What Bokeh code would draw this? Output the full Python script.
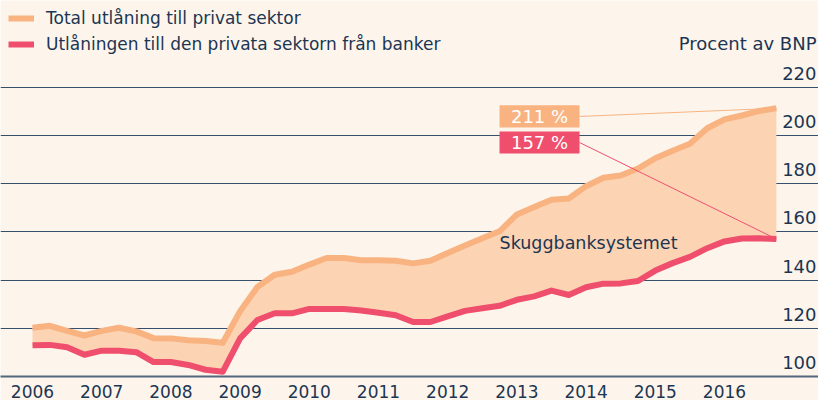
from bokeh.plotting import figure
from bokeh.models import (ColumnDataSource, FixedTicker, LinearAxis, Legend, LegendItem, Label)
from bokeh.core.properties import value
from bokeh.embed import file_html
from bokeh.resources import INLINE

# ---- data (percent of GDP, quarterly 2006Q1-2016Q4) ----
years = [2006, 2007, 2008, 2009, 2010, 2011, 2012, 2013, 2014, 2015, 2016]
total = [120.2, 121.0, 118.9, 117.0, 118.9, 120.2, 118.7, 115.9, 115.8, 115.0, 114.7, 114.0,
         127.1, 137.1, 142.2, 143.4, 146.4, 149.1, 149.1, 148.2, 148.2, 148.0, 146.9, 148.0,
         151.2, 154.3, 157.3, 160.2, 167.2, 170.3, 173.3, 173.8, 178.9, 182.4, 183.3, 186.2,
         190.5, 193.6, 196.5, 202.9, 206.6, 208.2, 210.1, 211.2]
banks = [113.0, 113.1, 112.1, 109.0, 110.7, 110.7, 110.1, 106.0, 106.0, 104.8, 102.8, 102.0,
         115.8, 123.4, 126.2, 126.2, 128.0, 128.0, 128.0, 127.4, 126.4, 125.4, 122.6, 122.6,
         124.9, 127.2, 128.3, 129.3, 131.8, 133.2, 135.6, 133.8, 137.0, 138.5, 138.6, 139.6,
         143.9, 147.0, 149.6, 153.2, 156.0, 157.2, 157.3, 157.0]
y_ticks = [100, 120, 140, 160, 180, 200, 220]
y_labels = ["100", "120", "140", "160", "180", "200", "220"]
series_names = ["Total utlåning till privat sektor",
                "Utlåningen till den privata sektorn från banker"]
end_labels = ["211 %", "157 %"]
shadow_label = "Skuggbanksystemet"
unit_label = "Procent av BNP"

x = [years[0] + i / 4 for i in range(len(total))]

# ---- style ----
BG = "#fdf5ec"
ORANGE = "#f8b381"
FILL = "#fcd4b4"
RED = "#ef4f6c"
NAVY = "#1c3553"
GRID = "#34506b"
FONT = "DejaVu Sans"

W, H, BOTTOM = 818, 400, 22
FRAME_H = H - BOTTOM
X0 = 2005.5376
X1 = X0 + W / 69.2
SCALE = (FRAME_H - 87) / 120.0
Y0 = 100
Y1 = Y0 + FRAME_H / SCALE


def yv(py):
    """screen y (px from top) -> data value"""
    return Y1 - py / SCALE


p = figure(width=W, height=H, x_range=(X0, X1), y_range=(Y0, Y1),
           output_backend="svg", toolbar_location=None,
           x_axis_location=None, y_axis_location=None,
           min_border_left=0, min_border_right=0, min_border_top=0, min_border_bottom=BOTTOM,
           background_fill_color=BG, border_fill_color=BG, outline_line_color=None)

p.xgrid.visible = False
p.ygrid.ticker = FixedTicker(ticks=y_ticks[1:])
p.ygrid.grid_line_color = GRID
p.ygrid.grid_line_width = 1

xaxis = LinearAxis(ticker=FixedTicker(ticks=years),
                   major_label_overrides={y: str(y) for y in years})
xaxis.axis_line_color = "#52677b"
xaxis.axis_line_width = 2
xaxis.major_tick_line_color = None
xaxis.minor_tick_line_color = None
xaxis.major_label_standoff = 2
xaxis.major_label_text_font = FONT
xaxis.major_label_text_font_size = "17px"
xaxis.major_label_text_color = NAVY
p.add_layout(xaxis, "below")

src = ColumnDataSource(dict(x=x, total=total, banks=banks))
p.varea(x="x", y1="banks", y2="total", source=src, fill_color=FILL)
r_tot = p.line("x", "total", source=src, line_color=ORANGE, line_width=6, line_join="round")
r_bank = p.line("x", "banks", source=src, line_color=RED, line_width=6, line_join="round")

# y tick labels (inside frame, above gridlines, right aligned)
tsrc = ColumnDataSource(dict(x=[X1] * len(y_ticks), y=y_ticks, t=y_labels))
p.text(x="x", y="y", text="t", source=tsrc, text_align="right", text_baseline="middle",
       x_offset=-2, y_offset=-14, text_font=value(FONT), text_font_size="18px", text_color=NAVY)

p.add_layout(Label(x=X1, y=yv(43), text=unit_label, text_align="right", text_baseline="middle",
                   x_offset=-2, text_font=FONT, text_font_size="18px", text_color=NAVY))

# end-value callouts
bx0, bx1 = 2012.749, 2013.905
boxes = [(212.4, 203.2, ORANGE), (201.6, 192.4, RED)]
ends = [total[-1], banks[-1]]
for (top, bot, col), lab, yend in zip(boxes, end_labels, ends):
    p.quad(left=[bx0], right=[bx1], top=[top], bottom=[bot], fill_color=col, line_color=None)
    p.text(x=[(bx0 + bx1) / 2], y=[(top + bot) / 2], text=[lab], text_align="center",
           text_baseline="middle", text_font=value(FONT), text_font_size="18px", text_color="white")
    p.segment(x0=[bx1], y0=[(top + bot) / 2], x1=[x[-1]], y1=[yend], line_color=col, line_width=1)

p.text(x=[bx0], y=[155.2], text=[shadow_label], text_align="left", text_baseline="middle",
       text_font=value(FONT), text_font_size="17.5px", text_color=NAVY)

legend = Legend(items=[LegendItem(label=series_names[0], renderers=[r_tot]),
                       LegendItem(label=series_names[1], renderers=[r_bank])],
                location="top_left", margin=0, padding=8, spacing=6,
                glyph_width=26, glyph_height=20, label_standoff=12,
                label_text_font=FONT, label_text_font_size="17px", label_text_color=NAVY,
                background_fill_alpha=0, border_line_alpha=0)
p.add_layout(legend)

open("out.html", "w").write(file_html(p, INLINE))
